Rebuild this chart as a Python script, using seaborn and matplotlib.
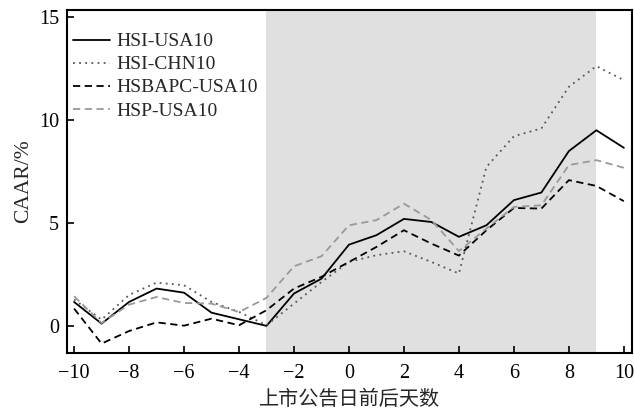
import matplotlib
matplotlib.use("Agg")
import matplotlib.pyplot as plt
import numpy as np
import pandas as pd
import seaborn as sns

days = list(range(-10, 11))
hsi_usa10 = [1.18, 0.13, 1.18, 1.83, 1.63, 0.66, 0.34, 0.02, 1.59, 2.31, 3.96,
             4.42, 5.21, 5.06, 4.34, 4.90, 6.12, 6.49, 8.50, 9.51, 8.66]
hsi_chn10 = [1.30, 0.32, 1.52, 2.12, 1.99, 1.18, 0.70, 0.05, 1.10, 2.15, 3.12,
             3.45, 3.64, 3.12, 2.56, 7.73, 9.22, 9.60, 11.62, 12.62, 11.94]
hsbapc_usa10 = [0.86, -0.84, -0.23, 0.19, 0.03, 0.37, 0.05, 0.78, 1.83, 2.40, 3.12,
                3.85, 4.66, 4.01, 3.43, 4.66, 5.74, 5.71, 7.09, 6.81, 6.07]
hsp_usa10 = [1.46, 0.16, 1.05, 1.42, 1.13, 1.10, 0.69, 1.38, 2.91, 3.40, 4.90,
             5.15, 5.95, 5.15, 3.65, 4.74, 5.79, 5.87, 7.82, 8.06, 7.69]
series_names = ["HSI-USA10", "HSI-CHN10", "HSBAPC-USA10", "HSP-USA10"]
window_start, window_end = -3, 9

df = pd.DataFrame({
    "day": days * 4,
    "caar": hsi_usa10 + hsi_chn10 + hsbapc_usa10 + hsp_usa10,
    "series": sum([[n] * len(days) for n in series_names], []),
})

sns.set_style("ticks")
plt.rcParams["font.family"] = ["Liberation Serif", "Noto Sans CJK SC"]
plt.rcParams["axes.unicode_minus"] = True

fig = plt.figure(figsize=(6.34, 4.12), dpi=100)
ax = fig.add_axes([0.106, 0.143, 0.891, 0.833])

ax.axvspan(window_start, window_end, color="#e0e0e0", lw=0, zorder=0)

styles = {
    "HSI-USA10": dict(color="black", linestyle="-"),
    "HSI-CHN10": dict(color="#555555", linestyle=(0, (1, 2.4))),
    "HSBAPC-USA10": dict(color="black", linestyle=(0, (4, 2.5))),
    "HSP-USA10": dict(color="#999999", linestyle=(0, (4, 2.5))),
}
for name in series_names:
    sub = df[df["series"] == name]
    sns.lineplot(data=sub, x="day", y="caar", ax=ax, label=name, lw=1.3,
                 **styles[name])

ax.set_xlim(-10.25, 10.3)
ax.set_ylim(-1.3, 15.35)
ax.set_xticks(range(-10, 11, 2))
ax.set_yticks([0, 5, 10, 15])
ax.tick_params(direction="in", length=5, width=1.2, labelsize=14.5, colors="black")
ax.tick_params(axis="x", pad=8)
ax.tick_params(axis="y", pad=6)
for s in ax.spines.values():
    s.set_linewidth(1.5)
    s.set_color("black")

ax.set_xlabel("上市公告日前后天数", fontsize=14.5,
              family=["Noto Sans CJK SC", "Liberation Serif"], labelpad=4)
ax.set_ylabel("CAAR/%", fontsize=15.5, labelpad=4)

ax.legend(loc="upper left", bbox_to_anchor=(-0.004, 0.956), frameon=False,
          fontsize=14, handlelength=1.9, handletextpad=0.36,
          borderaxespad=0, labelspacing=0.28)

fig.savefig("out.png", dpi=100)
